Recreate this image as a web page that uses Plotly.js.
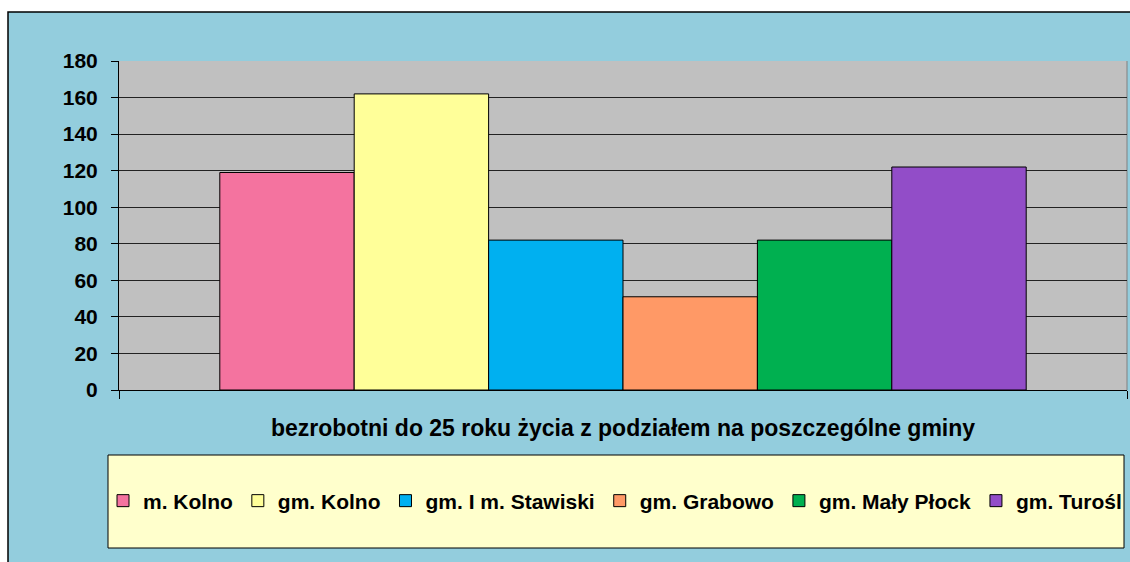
<!DOCTYPE html>
<html>
<head>
<meta charset="utf-8">
<script src="https://cdn.plot.ly/plotly-3.0.1.min.js"></script>
<style>html,body{margin:0;padding:0;background:#fff;}#chart{width:1130px;height:562px;}</style>
</head>
<body>
<div id="chart"></div>
<script>
const categories = ['bezrobotni do 25 roku życia z podziałem na poszczególne gminy'];
const seriesNames = ['m. Kolno', 'gm. Kolno', 'gm. I m. Stawiski', 'gm. Grabowo', 'gm. Mały Płock', 'gm. Turośl'];
const seriesValues = [119, 162, 82, 51, 82, 122];
const seriesColors = ['#F4739F', '#FFFF99', '#00B0F0', '#FF9966', '#00B050', '#924DC8'];
const yTickVals = [0, 20, 40, 60, 80, 100, 120, 140, 160, 180];

const W = 1130, H = 562;
const M = {l: 119, r: 3, t: 61, b: 172};
const pw = W - M.l - M.r, ph = H - M.t - M.b;
const px = x => (x - M.l) / pw;
const py = y => (H - M.b - y) / ph;

const traces = seriesNames.map((name, i) => ({
  type: 'bar',
  name: name,
  x: categories,
  y: [seriesValues[i]],
  marker: {color: seriesColors[i], line: {color: '#000000', width: 1}},
  hoverinfo: 'name+y'
}));

const layout = {
  width: W, height: H,
  margin: M,
  paper_bgcolor: '#ffffff',
  plot_bgcolor: 'rgba(0,0,0,0)',
  barmode: 'group',
  bargap: 0.2,
  bargroupgap: 0,
  font: {family: 'Liberation Sans, Arial, sans-serif', color: '#000000'},
  showlegend: true,
  legend: {
    orientation: 'h',
    xref: 'paper', yref: 'paper',
    x: px(103), y: py(501),
    xanchor: 'left', yanchor: 'middle',
    bgcolor: 'rgba(0,0,0,0)',
    borderwidth: 0,
    font: {family: 'Liberation Sans, Arial, sans-serif', size: 21, color: '#000000', weight: 'bold'},
    traceorder: 'normal'
  },
  xaxis: {
    type: 'category',
    showgrid: false,
    zeroline: false,
    showline: true, linecolor: '#000000', linewidth: 1,
    ticks: 'outside', tickson: 'boundaries', ticklen: 8, tickcolor: '#000000',
    tickfont: {family: 'Liberation Sans, Arial, sans-serif', size: 23, color: '#000000', weight: 'bold'},
    ticklabelstandoff: 17,
    automargin: false,
    fixedrange: true
  },
  yaxis: {
    range: [0, 180],
    tickvals: yTickVals,
    ticktext: yTickVals.map(String),
    showgrid: true, gridcolor: '#222222', gridwidth: 1,
    zeroline: false,
    showline: true, linecolor: '#000000', linewidth: 1,
    ticks: 'outside', ticklen: 7, tickcolor: '#000000',
    tickfont: {family: 'Liberation Sans, Arial, sans-serif', size: 21, color: '#000000', weight: 'bold'},
    ticklabelstandoff: 9,
    automargin: false,
    fixedrange: true
  },
  shapes: [
    {type: 'rect', xref: 'paper', yref: 'paper', layer: 'below',
     x0: px(8), x1: px(1140), y0: py(12), y1: py(575),
     fillcolor: '#93CDDD', line: {color: '#000000', width: 1.5}},
    {type: 'rect', xref: 'paper', yref: 'paper', layer: 'below',
     x0: 0, x1: 1, y0: 0, y1: 1,
     fillcolor: '#C0C0C0', line: {width: 0}},
    {type: 'line', xref: 'paper', yref: 'paper', layer: 'below',
     x0: 1, x1: 1, y0: 0, y1: 1,
     line: {color: '#808080', width: 1}},
    {type: 'rect', xref: 'paper', yref: 'paper', layer: 'below',
     x0: px(108), x1: px(1124), y0: py(548), y1: py(455),
     fillcolor: '#FFFFCC', line: {color: '#000000', width: 1}}
  ]
};

Plotly.newPlot('chart', traces, layout, {displayModeBar: false, staticPlot: true});
</script>
</body>
</html>
